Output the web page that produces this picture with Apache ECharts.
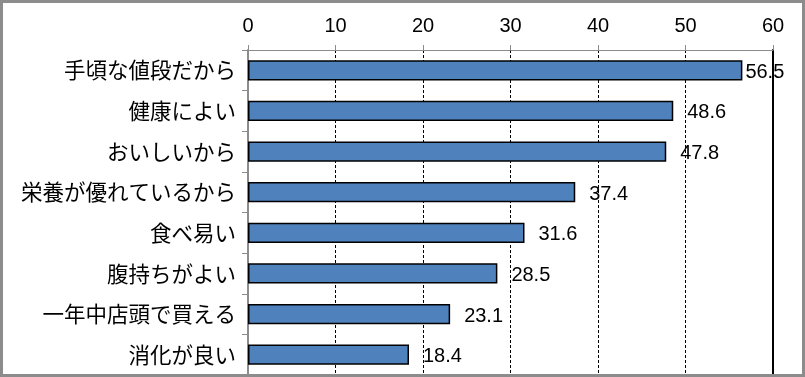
<!DOCTYPE html>
<html>
<head>
<meta charset="utf-8">
<script src="https://cdn.jsdelivr.net/npm/echarts@6/dist/echarts.min.js"></script>
<style>
  html, body { margin: 0; padding: 0; background: #fff; }
  #wrap { position: relative; width: 805px; height: 377px; }
  #chart { width: 805px; height: 377px; }
  #frame {
    position: absolute; left: 0; top: 0; width: 805px; height: 377px;
    box-sizing: border-box; border: 3px solid #8c8c8c; pointer-events: none;
  }
</style>
</head>
<body>
<div id="wrap">
  <div id="chart"></div>
  <div id="frame"></div>
</div>
<script>
const reasons = [
    '手頃な値段だから',
    '健康によい',
    'おいしいから',
    '栄養が優れているから',
    '食べ易い',
    '腹持ちがよい',
    '一年中店頭で買える',
    '消化が良い'
];
const percents = [56.5, 48.6, 47.8, 37.4, 31.6, 28.5, 23.1, 18.4];
const xTicks = [0, 10, 20, 30, 40, 50, 60];

const xMax = xTicks[xTicks.length - 1];

const myChart = echarts.init(document.getElementById('chart'));

const option = {
    animation: false,
    grid: {
        left: 248,
        right: 32,
        top: 50,
        bottom: 2,
        containLabel: false
    },
    xAxis: {
        type: 'value',
        position: 'top',
        min: xTicks[0],
        max: xMax,
        interval: 10,
        axisLine: {show: true, lineStyle: {color: '#8c8c8c', width: 1}},
        axisTick: {show: true, length: 5, inside: false, lineStyle: {color: '#8c8c8c'}},
        axisLabel: {
            margin: 14,
            color: '#000',
            fontSize: 20,
            fontFamily: 'Liberation Sans, Arial, sans-serif'
        },
        splitLine: {
            show: true,
            lineStyle: {color: '#000', type: [3, 2], width: 1}
        }
    },
    yAxis: [
        {
            type: 'category',
            data: reasons,
            inverse: true,
            axisLine: {show: true, lineStyle: {color: '#8c8c8c', width: 2}},
            axisTick: {show: true, length: 6, lineStyle: {color: '#8c8c8c', width: 1}},
            axisLabel: {
                margin: 12,
                color: '#000',
                fontSize: 21.5,
                fontFamily: '"Noto Sans CJK JP", sans-serif'
            },
            splitLine: {show: false}
        },
        {
            // solid line at the right end of the value scale
            type: 'category',
            data: reasons,
            inverse: true,
            position: 'right',
            axisLine: {show: true, lineStyle: {color: '#000', width: 2}},
            axisTick: {show: false},
            axisLabel: {show: false}
        }
    ],
    series: [
        {
            type: 'bar',
            yAxisIndex: 0,
            barCategoryGap: '50%',
            data: percents.map(v => ({
                value: v,
                label: {distance: v > xMax - 6 ? 3 : 14}
            })),
            itemStyle: {
                color: '#4F81BD',
                borderColor: '#000',
                borderWidth: 1.5
            },
            label: {
                show: true,
                position: 'right',
                offset: [0, 2],
                color: '#000',
                fontSize: 20,
                fontFamily: 'Liberation Sans, Arial, sans-serif',
                formatter: (p) => p.value.toFixed(1)
            }
        }
    ]
};
myChart.setOption(option);
</script>
</body>
</html>
